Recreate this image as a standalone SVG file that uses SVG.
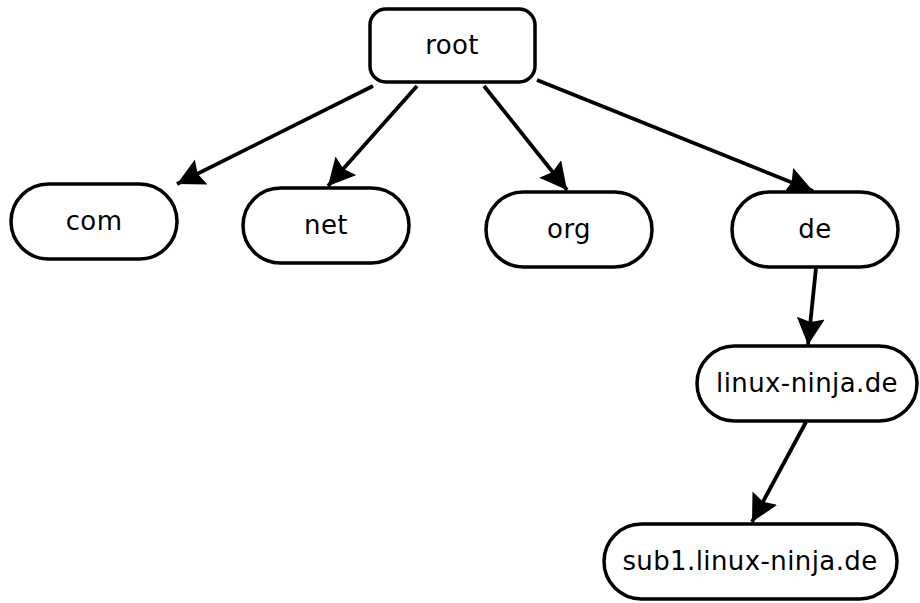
<svg xmlns="http://www.w3.org/2000/svg" width="920" height="603" viewBox="0 0 920 603">
<style>
.n{fill:#fff;stroke:#000;stroke-width:3.5}
.t{font-family:"DejaVu Sans",sans-serif;font-size:26px;letter-spacing:0.4px;text-anchor:middle;fill:#000}
.e{stroke:#000;stroke-width:3.8;fill:none}
</style>
<defs>
<marker id="a" markerUnits="userSpaceOnUse" markerWidth="30" markerHeight="30" refX="27" refY="14" orient="auto">
<path d="M0,0 L27,14 L0,28 L4,14 Z" fill="#000"/>
</marker>
</defs>
<rect width="920" height="603" fill="#fff"/>
<g id="edges">
<line class="e" x1="373" y1="86" x2="177" y2="184" marker-end="url(#a)"/>
<line class="e" x1="417" y1="86" x2="328" y2="186" marker-end="url(#a)"/>
<line class="e" x1="484" y1="86" x2="567" y2="190" marker-end="url(#a)"/>
<line class="e" x1="537" y1="80" x2="813" y2="191" marker-end="url(#a)"/>
<line class="e" x1="816" y1="268" x2="808" y2="345" marker-end="url(#a)"/>
<line class="e" x1="806" y1="422" x2="752" y2="522" marker-end="url(#a)"/>
</g>
<g id="root"><rect class="n" x="370" y="9" width="165" height="73" rx="16"/><text class="t" x="452" y="54">root</text></g>
<g id="com"><rect class="n" x="11" y="184" width="166" height="75" rx="37.5"/><text class="t" x="94" y="230">com</text></g>
<g id="net"><rect class="n" x="243" y="188" width="166" height="75" rx="37.5"/><text class="t" x="326" y="234">net</text></g>
<g id="org"><rect class="n" x="486" y="192" width="166" height="75" rx="37.5"/><text class="t" x="569" y="238">org</text></g>
<g id="de"><rect class="n" x="732" y="192" width="166" height="75" rx="37.5"/><text class="t" x="815" y="238">de</text></g>
<g id="linux"><rect class="n" x="697" y="346" width="220" height="75" rx="37.5"/><text class="t" x="807" y="392">linux-ninja.de</text></g>
<g id="sub1"><rect class="n" x="604" y="524" width="293" height="75" rx="37.5"/><text class="t" x="750" y="570">sub1.linux-ninja.de</text></g>
</svg>
